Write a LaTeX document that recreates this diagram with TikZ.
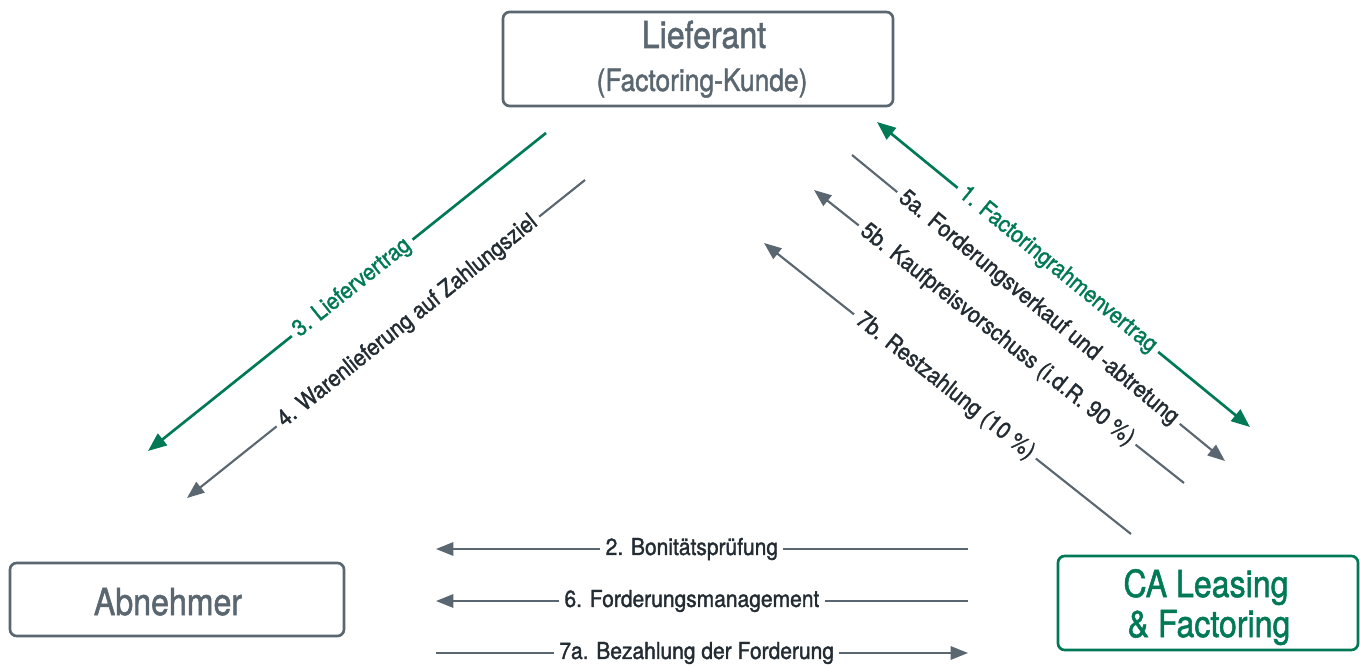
\documentclass[tikz,border=0pt]{standalone}
\usepackage{fontspec}
\setmainfont{TeX Gyre Heros}[FakeStretch=0.86, FakeBold=1.4]
\newfontfamily\labfont{TeX Gyre Heros}[FakeStretch=0.9, FakeBold=1.4]
\usetikzlibrary{arrows.meta}
\definecolor{slate}{HTML}{5B6770}
\definecolor{ink}{HTML}{232B33}
\definecolor{cagreen}{HTML}{007A56}
\begin{document}
\begin{tikzpicture}[x=0.75pt,y=-0.75pt,
  box/.style={draw=slate, line width=2pt, rounded corners=5pt, fill=white, inner sep=0pt},
  gbox/.style={box, draw=cagreen},
  bigtext/.style={anchor=base, inner sep=0pt, text=slate, font=\fontsize{28}{32}\selectfont},
  midtext/.style={anchor=base, inner sep=0pt, text=slate, font=\fontsize{23}{27}\selectfont},
  gtext/.style={anchor=base, inner sep=0pt, text=cagreen, font=\fontsize{28}{32}\selectfont},
  lab/.style={fill=white, inner sep=4pt, text=ink, font=\labfont\fontsize{17.5}{20}\selectfont},
  glab/.style={lab, text=cagreen},
  garrow/.style={draw=cagreen, line width=2pt, -{Triangle[length=14pt,width=11pt]}},
  sarrow/.style={draw=slate, line width=1.6pt, -{Triangle[length=13pt,width=10pt]}},
  gdouble/.style={draw=cagreen, line width=2pt, {Triangle[length=14pt,width=11pt]}-{Triangle[length=14pt,width=11pt]}}
]
\path[use as bounding box] (0,0) rectangle (1360,666);

% boxes
\node[box, minimum width=292.5pt, minimum height=70.5pt] (lief) at (698,59) {};
\node[bigtext] (lieft1) at (704,48) {Lieferant};
\node[midtext] (lieft2) at (702,91) {(Factoring-Kunde)};

\node[box, minimum width=250.5pt, minimum height=54.75pt] (abn) at (177,599.5) {};
\node[bigtext] (abnt) at (168,615) {Abnehmer};

\node[gbox, minimum width=225pt, minimum height=70.5pt] (ca) at (1208,603) {};
\node[gtext] (cat1) at (1206,597) {CA Leasing};
\node[gtext] (cat2) at (1209,637) {\& Factoring};

% endpoints
\coordinate (a3s) at (546,133);  \coordinate (a3e) at (148,451);
\coordinate (a4s) at (585,180);  \coordinate (a4e) at (187,498);
\coordinate (a1s) at (877,122);  \coordinate (a1e) at (1250,427);
\coordinate (a5as) at (852,155); \coordinate (a5ae) at (1225,461);
\coordinate (a5bs) at (1184,483); \coordinate (a5be) at (814,190);
\coordinate (a7bs) at (1131,534); \coordinate (a7be) at (764,243);
\coordinate (h2s) at (968,549);  \coordinate (h2e) at (436,549);
\coordinate (h6s) at (968,601);  \coordinate (h6e) at (436,601);
\coordinate (h7s) at (436,653);  \coordinate (h7e) at (968,653);

% arrows
\draw[garrow] (a3s) -- node[glab, sloped, pos=0.487] (l3) {3. Liefervertrag} (a3e);
\draw[sarrow] (a4s) -- node[lab, sloped, pos=0.445] (l4) {4. Warenlieferung auf Zahlungsziel} (a4e);
\draw[gdouble] (a1s) -- node[glab, sloped, pos=0.485] (l1) {1. Factoringrahmenvertrag} (a1e);
\draw[sarrow] (a5as) -- node[lab, sloped, pos=0.5] (l5a) {5a. Forderungsverkauf und -abtretung} (a5ae);
\draw[sarrow] (a5bs) -- node[lab, sloped, pos=0.505] (l5b) {5b. Kaufpreisvorschuss (i.d.R. 90 \%)} (a5be);
\draw[sarrow] (a7bs) -- node[lab, sloped, pos=0.507] (l7b) {7b. Restzahlung (10 \%)} (a7be);
\draw[sarrow] (h2s) -- node[lab, pos=0.519] (l2) {2. Bonitätsprüfung} (h2e);
\draw[sarrow] (h6s) -- node[lab, pos=0.519] (l6) {6. Forderungsmanagement} (h6e);
\draw[sarrow] (h7s) -- node[lab, pos=0.49] (l7a) {7a. Bezahlung der Forderung} (h7e);
\end{tikzpicture}
\end{document}
